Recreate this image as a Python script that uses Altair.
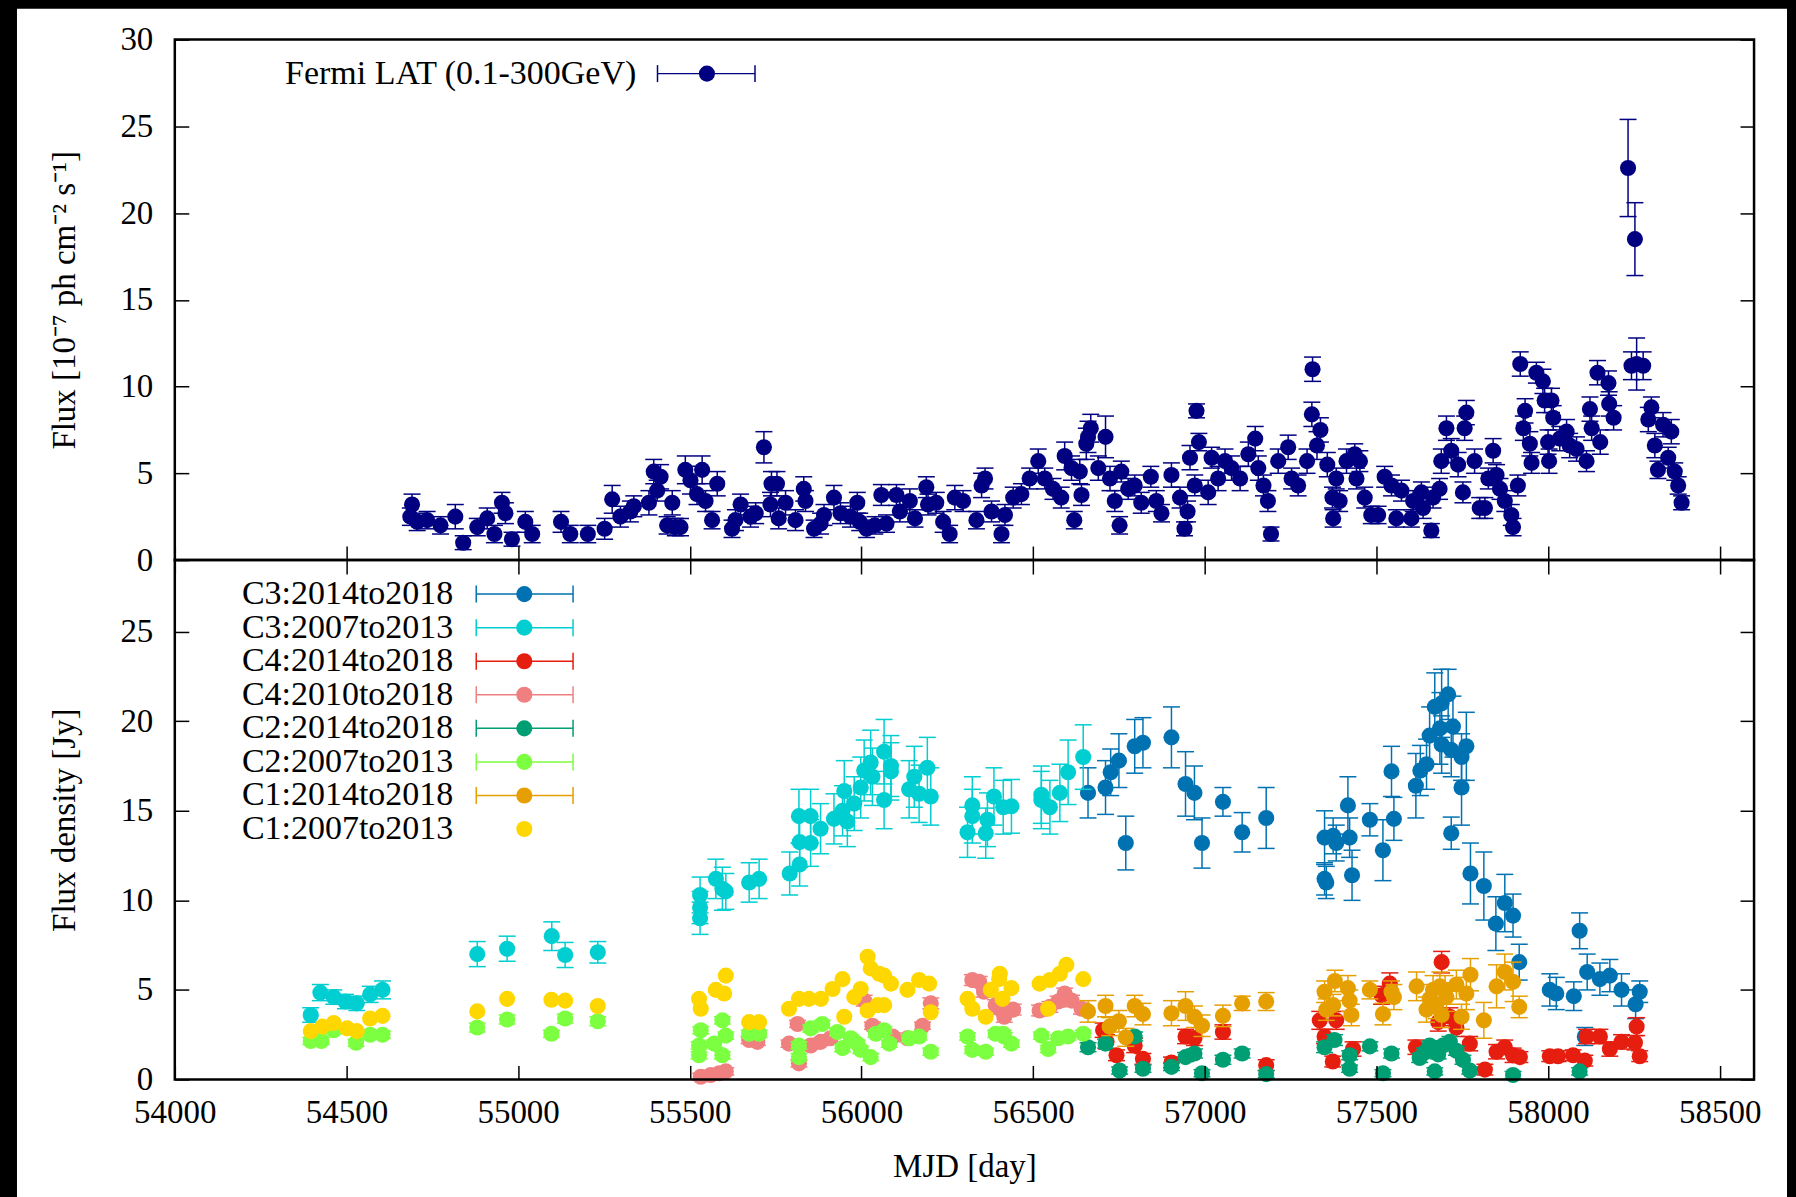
import altair as alt
import pandas as pd

FONT = "Liberation Serif"
FS = 33
LEGEND_FS = 34
PLOT_W = 1581
TOP_H = 521
BOT_H = 520
TICK = 14

X_DOMAIN = [54000, 58600]
X_TICKS = list(range(54000, 58501, 500))
TOP_Y_DOMAIN = [0, 30]
BOT_Y_DOMAIN = [0, 29]
TOP_Y_TICKS = [0, 5, 10, 15, 20, 25, 30]
BOT_Y_TICKS = [0, 5, 10, 15, 20, 25]

# ---------------- Fermi LAT gamma-ray light curve ----------------
fermi_mjd = [
    54686, 54691, 54706, 54735, 54774, 54817, 54840, 54881, 54910, 54931, 54953, 54963, 54982,
    55021, 55041, 55125, 55152, 55203, 55252, 55274, 55298, 55327, 55337, 55381, 55395, 55405,
    55415, 55434, 55449, 55458, 55473, 55487, 55502, 55521, 55536, 55546, 55565, 55580, 55623,
    55633, 55648, 55677, 55692, 55716, 55735, 55738, 55754, 55759, 55779, 55808, 55832, 55837,
    55862, 55881, 55891, 55920, 55939, 55968, 55988, 55995, 56015, 56039, 56058, 56073, 56102,
    56112, 56141, 56156, 56189, 56194, 56218, 56238, 56257, 56272, 56296, 56335, 56350, 56360,
    56379, 56408, 56418, 56442, 56466, 56490, 56515, 56534, 56558, 56582, 56592, 56612, 56620,
    56636, 56641, 56655, 56660, 56668, 56690, 56711, 56724, 56738, 56752, 56757, 56777, 56796,
    56815, 56843, 56859, 56874, 56903, 56928, 56941, 56950, 56957, 56971, 56976, 56983, 57010,
    57020, 57039, 57059, 57078, 57103, 57127, 57147, 57156, 57171, 57184, 57193, 57214, 57243,
    57253, 57272, 57298, 57312, 57314, 57327, 57337, 57357, 57372, 57374, 57383, 57393, 57413,
    57437, 57442, 57452, 57466, 57485, 57505, 57524, 57544, 57558, 57573, 57602, 57607, 57631,
    57636, 57660, 57665, 57684, 57689, 57704, 57718, 57738, 57752, 57757, 57762, 57786, 57801,
    57816, 57826, 57840, 57850, 57860, 57874, 57893, 57898, 57912, 57919, 57928, 57933, 57947,
    57952, 57966, 57985, 57990, 58000, 58003, 58010, 58015, 58034, 58054, 58063, 58083, 58112,
    58122, 58127, 58144, 58152, 58176, 58178, 58191, 58233, 58243, 58253, 58258, 58277, 58292,
    58301, 58311, 58320, 58335, 58350, 58359, 58369, 58379, 58389,
]
fermi_flux = [
    2.5, 3.2, 2.2, 2.3, 2.0, 2.5, 1.0, 1.9, 2.4, 1.5, 3.3, 2.7, 1.2,
    2.2, 1.5, 2.2, 1.5, 1.5, 1.8, 3.5, 2.5, 2.8, 3.1, 3.3, 5.1, 4.0,
    4.8, 2.0, 3.3, 1.9, 1.9, 5.2, 4.6, 3.8, 5.2, 3.4, 2.3, 4.4, 1.8,
    2.3, 3.2, 2.5, 2.7, 6.5, 3.2, 4.4, 4.4, 2.4, 3.3, 2.3, 4.1, 3.4,
    1.8, 2.1, 2.6, 3.6, 2.7, 2.5, 3.3, 2.2, 1.8, 2.0, 3.75, 2.1, 3.75,
    2.8, 3.4, 2.4, 4.2, 3.2, 3.3, 2.2, 1.5, 3.6, 3.4, 2.3, 4.3, 4.7,
    2.8, 1.5, 2.6, 3.6, 3.8, 4.7, 5.7, 4.7, 4.1, 3.6, 6.0, 5.3, 2.3,
    5.1, 3.75, 6.7, 7.1, 7.6, 5.3, 7.1, 4.7, 3.4, 2.0, 5.1, 4.1, 4.3,
    3.3, 4.8, 3.4, 2.7, 4.9, 3.6, 1.8, 2.8, 5.9, 4.3, 8.6, 6.8, 3.9,
    5.9, 4.7, 5.7, 5.3, 4.7, 6.1, 7.0, 5.3, 4.3, 3.4, 1.5, 5.7, 6.5,
    4.7, 4.3, 5.7, 8.4, 11.0, 6.6, 7.5, 5.5, 3.6, 2.4, 4.7, 3.4, 5.7,
    6.1, 4.7, 5.7, 3.6, 2.6, 2.6, 4.8, 4.3, 2.4, 4.0, 2.4, 3.4, 3.9,
    3.0, 1.7, 3.6, 4.1, 5.7, 7.6, 6.3, 5.5, 3.9, 7.6, 8.5, 5.7, 3.0,
    3.0, 4.7, 6.3, 4.9, 4.1, 3.4, 2.6, 1.9, 4.3, 11.3, 7.6, 8.6, 6.7,
    5.6, 10.8, 10.3, 9.2, 6.8, 5.7, 9.2, 8.2, 7.0, 7.4, 6.6, 6.4, 5.7,
    8.7, 7.6, 10.8, 6.8, 10.2, 9.0, 8.2, 22.6, 11.2, 18.5, 11.3, 11.2, 8.1,
    8.8, 6.6, 5.2, 7.8, 5.9, 7.4, 5.1, 4.3, 3.3,
]
fermi_err = [
    0.5, 0.6, 0.5, 0.5, 0.5, 0.7, 0.4, 0.5, 0.6, 0.5, 0.6, 0.6, 0.4,
    0.6, 0.5, 0.6, 0.5, 0.5, 0.6, 0.8, 0.6, 0.6, 0.6, 0.7, 0.7, 0.6,
    0.7, 0.5, 0.7, 0.5, 0.5, 0.8, 0.8, 0.6, 0.8, 0.6, 0.5, 0.7, 0.5,
    0.6, 0.6, 0.6, 0.6, 0.9, 0.7, 0.7, 0.7, 0.6, 0.7, 0.6, 0.7, 0.6,
    0.5, 0.6, 0.6, 0.7, 0.6, 0.6, 0.6, 0.5, 0.5, 0.5, 0.6, 0.5, 0.6,
    0.6, 0.7, 0.5, 0.6, 0.6, 0.6, 0.6, 0.5, 0.7, 0.6, 0.5, 0.7, 0.6,
    0.6, 0.5, 0.6, 0.6, 0.6, 0.6, 0.7, 0.6, 0.6, 0.6, 0.8, 0.7, 0.5,
    0.7, 0.6, 0.9, 0.9, 0.8, 0.7, 1.2, 0.7, 0.6, 0.5, 0.6, 0.6, 0.6,
    0.6, 0.6, 0.6, 0.5, 0.7, 0.6, 0.4, 0.6, 0.7, 0.6, 0.4, 0.5, 0.7,
    0.6, 0.7, 0.7, 0.7, 0.7, 0.7, 0.7, 0.7, 0.6, 0.6, 0.4, 0.7, 0.7,
    0.6, 0.6, 0.7, 0.7, 0.7, 0.8, 0.7, 0.7, 0.6, 0.5, 0.6, 0.6, 0.7,
    0.6, 0.6, 0.6, 0.6, 0.5, 0.5, 0.6, 0.6, 0.5, 0.6, 0.5, 0.6, 0.6,
    0.6, 0.4, 0.6, 0.6, 0.7, 0.7, 0.7, 0.7, 0.6, 0.7, 0.7, 0.7, 0.6,
    0.6, 0.6, 0.7, 0.6, 0.6, 0.6, 0.6, 0.5, 0.6, 0.7, 0.7, 0.7, 0.7,
    0.6, 0.6, 0.7, 0.7, 0.7, 0.7, 0.7, 0.7, 0.7, 0.7, 0.7, 0.7, 0.6,
    0.7, 0.7, 0.7, 0.7, 0.7, 0.7, 0.7, 2.8, 0.8, 2.1, 1.5, 0.8, 0.7,
    0.6, 0.7, 0.5, 0.7, 0.6, 0.7, 0.5, 0.5, 0.4,
]

# ---------------- radio components (flux density, Jy) ----------------
c3_late_mjd = [
    56660, 56711, 56726, 56750, 56770, 56796, 56820, 56903, 56944, 56970, 56992, 57053, 57109,
    57179, 57349, 57354, 57349, 57374, 57383, 57417, 57422, 57429, 57481, 57519, 57544, 57551,
    57615, 57628, 57646, 57655, 57670, 57685, 57690, 57690, 57709, 57718, 57718, 57723, 57748,
    57748, 57762, 57774, 57813, 57848, 57874, 57898, 57916, 58005, 58024, 58075, 58092, 58107,
    58114, 58151, 58180, 58214, 58255, 58267,
]
c3_late_flux = [
    16.0, 16.3, 17.15, 17.8, 13.2, 18.6, 18.8, 19.1, 16.5, 16.0, 13.2, 15.5, 13.8,
    14.6, 11.2, 11.0, 13.5, 13.6, 13.2, 15.3, 13.5, 11.4, 14.5, 12.8, 17.2, 14.55,
    16.4, 17.25, 17.6, 19.2, 20.8, 19.6, 21.0, 18.7, 21.5, 18.4, 13.75, 19.7, 18.0,
    16.3, 18.6, 11.5, 10.8, 8.7, 9.85, 9.15, 6.55, 5.0, 4.8, 4.65, 8.3, 2.4,
    6.0, 5.6, 5.8, 5.0, 4.2, 4.9,
]
c3_late_err = [
    1.4, 1.5, 1.3, 1.5, 1.5, 1.5, 1.4, 1.7, 1.8, 1.5, 1.4, 0.8, 1.1,
    1.7, 0.9, 0.9, 1.5, 1.0, 1.0, 1.6, 1.1, 1.4, 0.9, 1.7, 1.4, 1.2,
    1.8, 1.4, 1.4, 1.6, 1.9, 2.0, 1.9, 1.6, 1.4, 1.5, 0.9, 1.7, 1.3,
    2.1, 1.9, 1.7, 1.9, 1.5, 1.6, 1.2, 1.0, 0.9, 0.9, 0.8, 1.0, 0.5,
    1.0, 0.9, 0.9, 0.9, 0.8, 0.6,
]

c3_early_mjd = [
    54396, 54424, 54463, 54497, 54530, 54569, 54605, 54881, 54968, 55098, 55137, 55232, 55530,
    55530, 55530, 55576, 55595, 55605, 55673, 55702, 55791, 55820, 55820, 55818, 55852, 55852,
    55881, 55920, 55945, 55950, 55959, 55979, 55998, 56008, 56027, 56032, 56066, 56066, 56086,
    56086, 56139, 56154, 56168, 56192, 56202, 56309, 56323, 56323, 56362, 56367, 56386, 56413,
    56437, 56524, 56524, 56549, 56578, 56602, 56646,
]
c3_early_flux = [
    3.6, 4.85, 4.6, 4.35, 4.25, 4.75, 5.0, 7.0, 7.3, 8.0, 6.95, 7.1, 10.3,
    9.6, 9.0, 11.2, 10.65, 10.5, 11.0, 11.2, 11.5, 12.0, 13.25, 14.7, 14.7, 13.2,
    14.0, 14.55, 15.0, 16.1, 14.4, 15.4, 16.3, 17.25, 17.7, 16.9, 18.3, 15.6, 17.5,
    17.2, 16.2, 16.9, 15.95, 17.4, 15.8, 13.8, 15.3, 14.7, 13.75, 14.5, 15.8, 15.2,
    15.25, 15.6, 15.9, 15.2, 16.0, 17.15, 18.0,
]
c3_early_err = [
    0.4, 0.45, 0.4, 0.4, 0.4, 0.45, 0.5, 0.7, 0.7, 0.8, 0.7, 0.6, 1.0,
    0.9, 0.9, 1.1, 1.2, 1.0, 1.1, 1.1, 1.2, 1.2, 1.4, 1.5, 1.5, 1.3,
    1.4, 1.4, 1.4, 1.7, 1.4, 1.5, 1.7, 1.7, 1.8, 1.6, 1.8, 1.6, 1.7,
    1.6, 1.6, 1.7, 1.6, 1.7, 1.6, 1.4, 1.6, 1.5, 1.4, 1.5, 1.6, 1.5,
    1.5, 1.6, 1.6, 1.5, 1.6, 1.8, 1.8,
]

c4_late_mjd = [
    56704, 56714, 56743, 56796, 56820, 56903, 56944, 56970, 57053, 57179, 57335, 57349, 57373,
    57383, 57432, 57515, 57539, 57615, 57680, 57690, 57714, 57733, 57772, 57816, 57850, 57874,
    57898, 57918, 58005, 58029, 58073, 58107, 58112, 58151, 58180, 58214, 58253, 58258, 58267,
]
c4_late_flux = [
    2.75, 2.1, 1.35, 1.9, 1.15, 0.95, 2.4, 2.3, 2.65, 0.8, 3.3, 2.4, 1.0,
    3.3, 1.7, 4.7, 5.35, 1.8, 3.2, 6.55, 3.5, 2.9, 2.0, 0.55, 1.55, 1.8,
    1.35, 1.25, 1.3, 1.3, 1.35, 1.05, 2.4, 2.4, 1.7, 2.1, 2.05, 2.95, 1.3,
]
c4_late_err = [
    0.4, 0.4, 0.3, 0.4, 0.3, 0.3, 0.4, 0.4, 0.4, 0.3, 0.5, 0.4, 0.3,
    0.5, 0.4, 0.5, 0.6, 0.4, 0.5, 0.6, 0.5, 0.5, 0.4, 0.3, 0.4, 0.4,
    0.4, 0.3, 0.3, 0.3, 0.3, 0.3, 0.4, 0.4, 0.4, 0.4, 0.4, 0.5, 0.3,
]

c4_mid_mjd = [
    55532, 55561, 55586, 55605, 55673, 55697, 55789, 55814, 55818, 55852, 55881, 55910, 56008,
    56032, 56091, 56134, 56178, 56202, 56323, 56343, 56357, 56391, 56403, 56416, 56442, 56519,
    56549, 56573, 56592, 56612, 56641,
]
c4_mid_flux = [
    0.15, 0.25, 0.35, 0.45, 2.2, 2.1, 2.0, 3.1, 0.9, 1.9, 2.1, 2.3, 4.4,
    3.0, 2.4, 2.3, 3.0, 4.25, 5.55, 5.45, 4.9, 4.15, 3.95, 3.5, 3.9, 3.85,
    4.05, 4.35, 4.8, 4.4, 3.95,
]
c4_mid_err = [
    0.2, 0.2, 0.2, 0.2, 0.2, 0.2, 0.2, 0.2, 0.2, 0.2, 0.2, 0.2, 0.3,
    0.2, 0.2, 0.2, 0.2, 0.3, 0.3, 0.3, 0.3, 0.3, 0.3, 0.3, 0.3, 0.3,
    0.3, 0.3, 0.3, 0.3, 0.3,
]

c2_late_mjd = [
    56660, 56711, 56752, 56796, 56820, 56903, 56944, 56970, 56992, 57053, 57109, 57179, 57349,
    57378, 57422, 57422, 57481, 57519, 57544, 57626, 57640, 57655, 57665, 57670, 57680, 57694,
    57714, 57733, 57752, 57772, 57898, 58092,
]
c2_late_flux = [
    1.8, 2.0, 0.5, 2.4, 0.6, 0.7, 1.25, 1.45, 0.35, 1.1, 1.45, 0.3, 1.8,
    2.2, 1.35, 0.6, 1.85, 0.35, 1.45, 1.2, 1.5, 1.9, 1.7, 0.45, 1.4, 1.9,
    2.1, 1.6, 1.1, 0.5, 0.25, 0.45,
]
c2_late_err = [
    0.25, 0.25, 0.2, 0.25, 0.2, 0.2, 0.25, 0.25, 0.2, 0.25, 0.25, 0.2, 0.3,
    0.3, 0.25, 0.2, 0.25, 0.2, 0.25, 0.25, 0.25, 0.25, 0.25, 0.2, 0.25, 0.25,
    0.3, 0.25, 0.25, 0.2, 0.2, 0.2,
]

c2_early_mjd = [
    54396, 54427, 54463, 54528, 54569, 54605, 54881, 54968, 55097, 55137, 55232, 55527, 55527,
    55532, 55571, 55595, 55595, 55605, 55673, 55702, 55818, 55818, 55852, 55886, 55930, 55945,
    55969, 55988, 55998, 56027, 56042, 56066, 56081, 56139, 56168, 56202, 56309, 56323, 56362,
    56391, 56413, 56416, 56437, 56524, 56544, 56573, 56602, 56646,
]
c2_early_flux = [
    2.15, 2.15, 2.75, 2.05, 2.5, 2.5, 2.9, 3.35, 2.55, 3.4, 3.25, 1.9, 1.35,
    2.75, 2.0, 3.3, 1.35, 2.45, 2.55, 2.55, 1.9, 1.25, 2.85, 3.1, 2.65, 1.75,
    2.3, 2.0, 1.65, 1.25, 2.55, 2.75, 2.0, 2.3, 2.4, 1.55, 2.4, 1.65, 1.55,
    2.55, 2.55, 2.4, 2.0, 2.45, 1.7, 2.3, 2.4, 2.55,
]
c2_early_err = [
    0.2, 0.2, 0.2, 0.2, 0.2, 0.2, 0.25, 0.25, 0.2, 0.25, 0.25, 0.2, 0.2,
    0.2, 0.2, 0.2, 0.2, 0.2, 0.2, 0.2, 0.2, 0.2, 0.2, 0.2, 0.2, 0.2,
    0.2, 0.2, 0.2, 0.2, 0.2, 0.2, 0.2, 0.2, 0.2, 0.2, 0.2, 0.2, 0.2,
    0.2, 0.2, 0.2, 0.2, 0.2, 0.2, 0.2, 0.2, 0.2,
]

c1_late_mjd = [
    56660, 56711, 56723, 56750, 56770, 56796, 56820, 56903, 56944, 56970, 56992, 57053, 57109,
    57179, 57349, 57354, 57374, 57379, 57417, 57422, 57427, 57481, 57519, 57544, 57551, 57617,
    57646, 57655, 57665, 57675, 57685, 57690, 57700, 57704, 57733, 57748, 57762, 57774, 57813,
    57850, 57874, 57898, 57916,
]
c1_late_flux = [
    3.8, 4.1, 2.95, 3.25, 2.35, 4.1, 3.65, 3.7, 4.1, 3.5, 3.0, 3.55, 4.25,
    4.35, 4.9, 3.9, 4.15, 5.5, 5.1, 4.4, 3.6, 5.0, 3.65, 4.9, 4.6, 5.2,
    3.9, 4.5, 5.0, 4.2, 5.2, 3.6, 5.0, 4.6, 5.3, 3.5, 4.8, 5.85, 3.3,
    5.2, 6.0, 5.45, 4.05,
]
c1_late_err = [
    0.6, 0.6, 0.5, 0.6, 0.5, 0.6, 0.6, 0.7, 0.8, 0.6, 0.6, 0.6, 0.4,
    0.5, 0.6, 0.6, 0.6, 0.6, 0.7, 0.6, 0.6, 0.5, 0.6, 0.6, 0.7, 0.8,
    0.7, 0.8, 0.8, 0.8, 0.8, 0.7, 0.8, 0.8, 0.8, 0.7, 0.9, 0.9, 1.0,
    1.2, 1.0, 1.1, 0.6,
]

c1_early_mjd = [
    54396, 54430, 54463, 54502, 54530, 54569, 54605, 54881, 54968, 55097, 55137, 55232, 55527,
    55532, 55576, 55600, 55605, 55673, 55702, 55789, 55818, 55847, 55882, 55916, 55945, 55950,
    55979, 55998, 56018, 56018, 56027, 56047, 56052, 56066, 56066, 56086, 56134, 56168, 56197,
    56202, 56309, 56323, 56362, 56377, 56401, 56403, 56411, 56437, 56519, 56544, 56549, 56578,
    56597, 56646,
]
c1_early_flux = [
    2.7, 2.95, 3.15, 2.85, 2.7, 3.4, 3.55, 3.8, 4.5, 4.45, 4.4, 4.1, 4.5,
    3.95, 5.0, 4.8, 5.8, 3.2, 3.2, 3.95, 4.5, 4.5, 4.5, 5.05, 5.6, 3.5,
    4.6, 5.05, 6.85, 3.85, 6.2, 4.15, 5.9, 5.8, 4.15, 5.35, 5.0, 5.55, 5.35,
    3.75, 4.5, 3.95, 3.5, 5.0, 5.6, 5.9, 4.5, 5.1, 5.35, 3.95, 5.55, 5.9,
    6.4, 5.6,
]

# legend entries of the lower panel, in drawing order
RADIO_LABELS = [
    "C3:2014to2018", "C3:2007to2013", "C4:2014to2018", "C4:2010to2018",
    "C2:2014to2018", "C2:2007to2013", "C1:2014to2018", "C1:2007to2013",
]
RADIO_COLORS = [
    "#0072B2", "#00CED1", "#E51E10", "#F08080",
    "#009E73", "#7CFF40", "#E69F00", "#FFD700",
]
FERMI_LABEL = "Fermi LAT (0.1-300GeV)"
FERMI_COLOR = "#000080"

RADIO_DATA = [
    (c3_late_mjd, c3_late_flux, c3_late_err),
    (c3_early_mjd, c3_early_flux, c3_early_err),
    (c4_late_mjd, c4_late_flux, c4_late_err),
    (c4_mid_mjd, c4_mid_flux, c4_mid_err),
    (c2_late_mjd, c2_late_flux, c2_late_err),
    (c2_early_mjd, c2_early_flux, c2_early_err),
    (c1_late_mjd, c1_late_flux, c1_late_err),
    (c1_early_mjd, c1_early_flux, None),
]

X_SCALE = alt.Scale(domain=X_DOMAIN, nice=False, zero=False)
TOP_SCALE = alt.Scale(domain=TOP_Y_DOMAIN, nice=False, zero=False)
BOT_SCALE = alt.Scale(domain=BOT_Y_DOMAIN, nice=False, zero=False)

DOT_SIZE = 260
CAP = 17
LW = 1.5


def table(mjd, flux, err=None):
    df = pd.DataFrame({"mjd": mjd, "flux": flux})
    if err is not None:
        df["lo"] = [f - e for f, e in zip(flux, err)]
        df["hi"] = [f + e for f, e in zip(flux, err)]
    return df


def xq(field):
    return alt.X(field, type="quantitative", scale=X_SCALE, axis=None)


def yq(field, scale):
    return alt.Y(field, type="quantitative", scale=scale, axis=None)


def series_layers(df, color, scale, with_err):
    base = alt.Chart(df)
    out = []
    if with_err:
        out.append(base.mark_rule(color=color, strokeWidth=LW).encode(
            x=xq("mjd"), y=yq("lo", scale), y2="hi"))
        for end in ("lo", "hi"):
            out.append(base.mark_tick(color=color, orient="horizontal", size=CAP,
                                      thickness=LW, opacity=1).encode(
                x=xq("mjd"), y=yq(end, scale)))
    out.append(base.mark_circle(color=color, size=DOT_SIZE, opacity=1).encode(
        x=xq("mjd"), y=yq("flux", scale)))
    return out


AXIS_STYLE = dict(
    grid=False, domain=False, tickSize=TICK, tickWidth=LW, tickColor="black",
    offset=-TICK, zindex=1, labelFont=FONT, labelFontSize=FS, labelColor="black",
    labelOverlap=False, titleFont=FONT, titleFontSize=FS, titleFontWeight="normal",
    titleColor="black",
)


def left_axis(ticks, title, height):
    return alt.Axis(orient="left", values=ticks, labelPadding=22, title=title,
                    titleAngle=270, titleX=-114, titleY=height / 2,
                    titleAlign="center", titleBaseline="alphabetic", **AXIS_STYLE)


def plain_axis(orient, ticks):
    return alt.Axis(orient=orient, values=ticks, labels=False, title=None, **AXIS_STYLE)


def axis_layer(df, scale, x_axis, y_axis):
    return alt.Chart(df).mark_point(opacity=0).encode(
        x=alt.X("mjd:Q", scale=X_SCALE, axis=x_axis),
        y=alt.Y("flux:Q", scale=scale, axis=y_axis),
    )


def border(height):
    return alt.Chart(alt.Data(values=[{"b": 1}])).mark_rect(
        fillOpacity=0, stroke="black", strokeWidth=2.5
    ).encode(x=alt.value(0), x2=alt.value(PLOT_W), y=alt.value(0), y2=alt.value(height))


def legend_layers(labels, colors, with_err, scale, x_text, x0, x1, xp, y_first, step):
    leg = pd.DataFrame({
        "label": labels,
        "col": colors,
        "y": [y_first - step * i for i in range(len(labels))],
        "err": with_err,
    })
    leg["x_text"] = x_text
    leg["x0"] = x0
    leg["x1"] = x1
    leg["xp"] = xp
    col = alt.Color("col:N", scale=None, legend=None)
    base = alt.Chart(leg)
    bars = base.transform_filter("datum.err")
    return [
        base.mark_text(align="right", baseline="middle", font=FONT, fontSize=LEGEND_FS,
                       color="black").encode(x=xq("x_text"), y=yq("y", scale), text="label:N"),
        bars.mark_rule(strokeWidth=LW).encode(x=xq("x0"), x2="x1", y=yq("y", scale), color=col),
        bars.mark_tick(orient="vertical", size=CAP, thickness=LW, opacity=1).encode(
            x=xq("x0"), y=yq("y", scale), color=col),
        bars.mark_tick(orient="vertical", size=CAP, thickness=LW, opacity=1).encode(
            x=xq("x1"), y=yq("y", scale), color=col),
        base.mark_circle(size=DOT_SIZE, opacity=1).encode(
            x=xq("xp"), y=yq("y", scale), color=col),
    ]


# white sheet behind the figure, leaving a dark edge around it
sheet = alt.Chart(alt.Data(values=[{"s": 1}])).mark_rect(color="white").encode(
    x=alt.value(-158), x2=alt.value(PLOT_W + 33), y=alt.value(-31), y2=alt.value(1197 - 38)
)

# ---------------- upper panel ----------------
fermi_df = table(fermi_mjd, fermi_flux, fermi_err)
top_layers = [sheet]
top_layers += series_layers(fermi_df, FERMI_COLOR, TOP_SCALE, True)
top_layers += legend_layers([FERMI_LABEL], [FERMI_COLOR], [True], TOP_SCALE,
                            55344, 55406, 55690, 55550, 28.04, 0)
top_layers.append(axis_layer(
    fermi_df, TOP_SCALE, plain_axis("bottom", X_TICKS),
    left_axis(TOP_Y_TICKS, "Flux [10⁻⁷ ph cm⁻² s⁻¹]", TOP_H)))
top_layers.append(axis_layer(fermi_df, TOP_SCALE, None, plain_axis("right", TOP_Y_TICKS)))
top_layers.append(border(TOP_H))

top = alt.layer(*top_layers).resolve_axis(x="independent", y="independent").properties(
    width=PLOT_W, height=TOP_H)

# ---------------- lower panel ----------------
bot_layers = []
for (mjd, flux, err), color in zip(RADIO_DATA, RADIO_COLORS):
    bot_layers += series_layers(table(mjd, flux, err), color, BOT_SCALE, err is not None)
bot_layers += legend_layers(RADIO_LABELS, RADIO_COLORS, [True] * 7 + [False], BOT_SCALE,
                            54811, 54878, 55160, 55018, 27.1, 1.874)

ref_df = table(c3_early_mjd, c3_early_flux)
x_bottom = alt.Axis(orient="bottom", values=X_TICKS, format="d", labelFlush=False,
                    labelPadding=17, title="MJD [day]", titleX=PLOT_W / 2, titleY=111,
                    titleAlign="center", titleBaseline="alphabetic", **AXIS_STYLE)
bot_layers.append(axis_layer(ref_df, BOT_SCALE, x_bottom,
                             left_axis(BOT_Y_TICKS, "Flux density [Jy]", BOT_H)))
bot_layers.append(axis_layer(ref_df, BOT_SCALE, plain_axis("top", X_TICKS),
                             plain_axis("right", BOT_Y_TICKS)))
bot_layers.append(border(BOT_H))

bottom = alt.layer(*bot_layers).resolve_axis(x="independent", y="independent").properties(
    width=PLOT_W, height=BOT_H)

chart = alt.vconcat(top, bottom, spacing=0, bounds="flush").configure(
    background="black",
    padding={"left": 16, "top": 7, "right": 8, "bottom": 0},
).configure_view(stroke="transparent")

chart.save("out.html", embed_options={"renderer": "svg", "actions": False})
